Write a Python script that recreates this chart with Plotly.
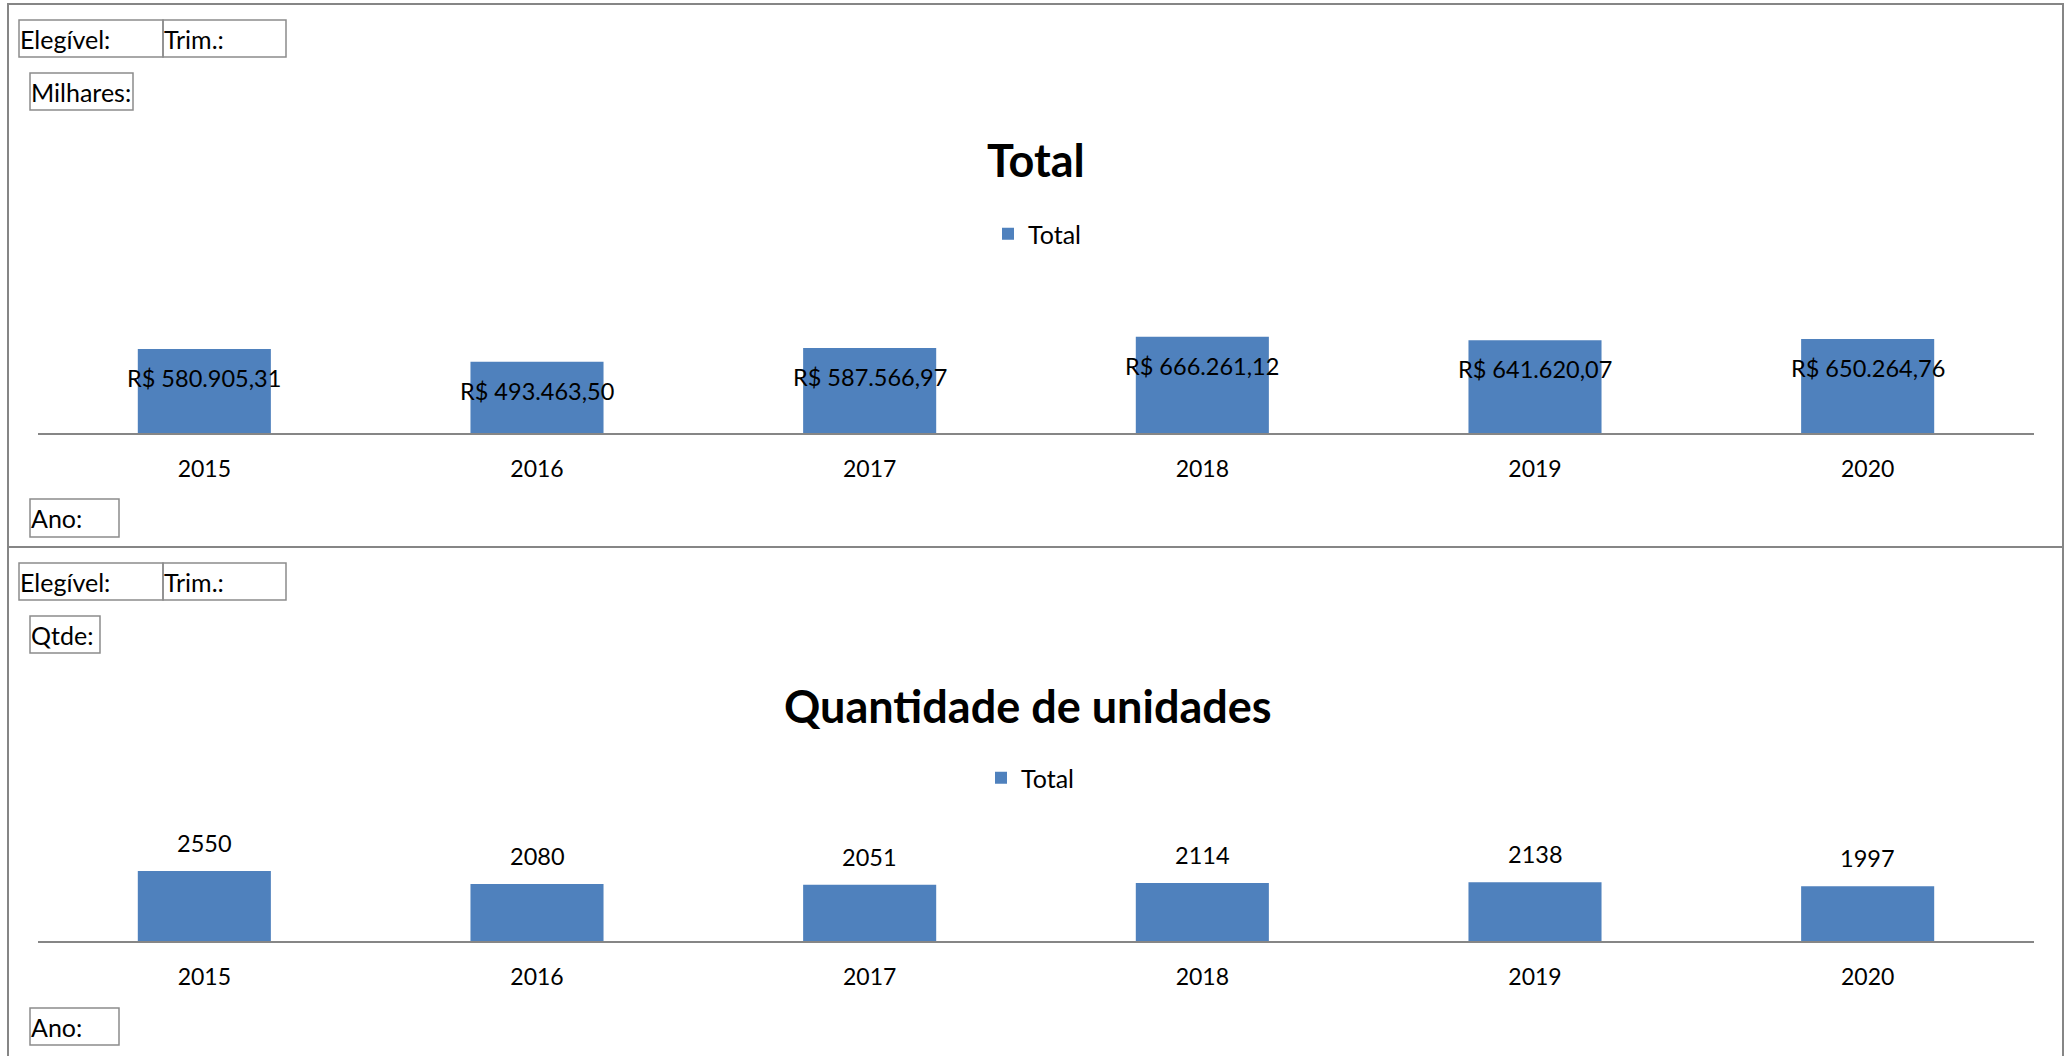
import plotly.graph_objects as go

# ---------------- data ----------------
anos = ["2015", "2016", "2017", "2018", "2019", "2020"]
total_valores = [580905.31, 493463.50, 587566.97, 666261.12, 641620.07, 650264.76]
total_rotulos = ["R$ 580.905,31", "R$ 493.463,50", "R$ 587.566,97",
                 "R$ 666.261,12", "R$ 641.620,07", "R$ 650.264,76"]
qtde_valores = [2550, 2080, 2051, 2114, 2138, 1997]
titulo_total = "Total"
titulo_qtde = "Quantidade de unidades"
serie_nome = "Total"

# ---------------- layout helpers ----------------
W, H = 2069, 1056
FONT = "Lato, 'Liberation Sans', Arial, sans-serif"
BLUE = "#4F81BD"
GREY = "#868686"
BOXGREY = "#8C8C8C"


def px(x):
    return x / W


def py(y):
    return 1 - y / H


fig = go.Figure()

fig.add_trace(go.Bar(x=anos, y=total_valores, name=serie_nome,
                     marker=dict(color=BLUE, line=dict(width=0)),
                     xaxis="x", yaxis="y", legend="legend",
                     hoverinfo="x+y"))
fig.add_trace(go.Bar(x=anos, y=qtde_valores, name=serie_nome,
                     marker=dict(color=BLUE, line=dict(width=0)),
                     xaxis="x2", yaxis="y2", legend="legend2",
                     hoverinfo="x+y"))

xdom = [px(38), px(2034)]
ncat = len(anos)
axis_common = dict(showgrid=False, zeroline=False, showline=True,
                   linecolor=GREY, linewidth=2, ticks="",
                   type="category", range=[-0.5, ncat - 0.5],
                   categoryorder="array", categoryarray=anos,
                   tickfont=dict(family=FONT, size=23, color="#000000"),
                   fixedrange=True)

fig.update_layout(
    width=W, height=H,
    margin=dict(l=0, r=0, t=0, b=0),
    paper_bgcolor="white", plot_bgcolor="white",
    bargap=0.6,
    font=dict(family=FONT, color="#000000"),
    xaxis=dict(domain=xdom, anchor="y", ticklabelstandoff=14, **axis_common),
    yaxis=dict(domain=[py(433), py(288.4)], anchor="x", range=[0, 1000000],
               visible=False, fixedrange=True),
    xaxis2=dict(domain=xdom, anchor="y2", ticklabelstandoff=14, **axis_common),
    yaxis2=dict(domain=[py(941), py(831.2)], anchor="x2", range=[0, 4000],
                visible=False, fixedrange=True),
    legend=dict(orientation="h", x=px(988), xanchor="left",
                y=py(234), yanchor="middle",
                font=dict(family=FONT, size=25, color="#000000"),
                bgcolor="rgba(0,0,0,0)"),
    legend2=dict(orientation="h", x=px(981), xanchor="left",
                 y=py(778), yanchor="middle",
                 font=dict(family=FONT, size=25, color="#000000"),
                 bgcolor="rgba(0,0,0,0)"),
    showlegend=True,
)

annotations = []
# chart titles
annotations.append(dict(text="<b>" + titulo_total + "</b>", xref="paper", yref="paper",
                        x=px(1036), y=py(160), xanchor="center", yanchor="middle",
                        showarrow=False, font=dict(family=FONT, size=45, color="#000000")))
annotations.append(dict(text="<b>" + titulo_qtde + "</b>", xref="paper", yref="paper",
                        x=px(1028), y=py(706), xanchor="center", yanchor="middle",
                        showarrow=False, font=dict(family=FONT, size=45, color="#000000")))

# data labels (x given as category index on the category axis)
for i, (v, t) in enumerate(zip(total_valores, total_rotulos)):
    annotations.append(dict(text=t, x=i, y=v, xref="x", yref="y",
                            xanchor="center", yanchor="middle", yshift=-29,
                            showarrow=False,
                            font=dict(family=FONT, size=23.5, color="#000000")))
for i, v in enumerate(qtde_valores):
    annotations.append(dict(text=str(v), x=i, y=v, xref="x2", yref="y2",
                            xanchor="center", yanchor="middle", yshift=28,
                            showarrow=False,
                            font=dict(family=FONT, size=23.5, color="#000000")))

shapes = []
# outer frame and separator
shapes.append(dict(type="rect", xref="paper", yref="paper",
                   x0=px(8), x1=px(2063), y0=py(1070), y1=py(4),
                   line=dict(color=GREY, width=2), fillcolor="rgba(0,0,0,0)"))
shapes.append(dict(type="line", xref="paper", yref="paper",
                   x0=px(8), x1=px(2063), y0=py(547), y1=py(547),
                   line=dict(color=GREY, width=2)))

# field buttons: (label, x0, y0, x1, y1)
boxes = [
    ("Elegível:", 19, 20, 163, 57),
    ("Trim.:", 163, 20, 286, 57),
    ("Milhares:", 30, 73, 133, 110),
    ("Ano:", 30, 499, 119, 537),
    ("Elegível:", 19, 563, 163, 600),
    ("Trim.:", 163, 563, 286, 600),
    ("Qtde:", 30, 616, 100, 653),
    ("Ano:", 30, 1008, 119, 1045),
]
for lbl, x0, y0, x1, y1 in boxes:
    shapes.append(dict(type="rect", xref="paper", yref="paper",
                       x0=px(x0), x1=px(x1), y0=py(y1), y1=py(y0),
                       line=dict(color=BOXGREY, width=1.5), fillcolor="rgba(0,0,0,0)"))
    annotations.append(dict(text=lbl, xref="paper", yref="paper",
                            x=px(x0 - 1), y=py((y0 + y1) / 2), xanchor="left",
                            yanchor="middle", showarrow=False,
                            font=dict(family=FONT, size=25, color="#000000")))

fig.update_layout(annotations=annotations, shapes=shapes)

fig.write_html("out.html",
               config={"displayModeBar": False},
               post_script="document.body.style.margin='0';document.body.style.overflow='hidden';")
